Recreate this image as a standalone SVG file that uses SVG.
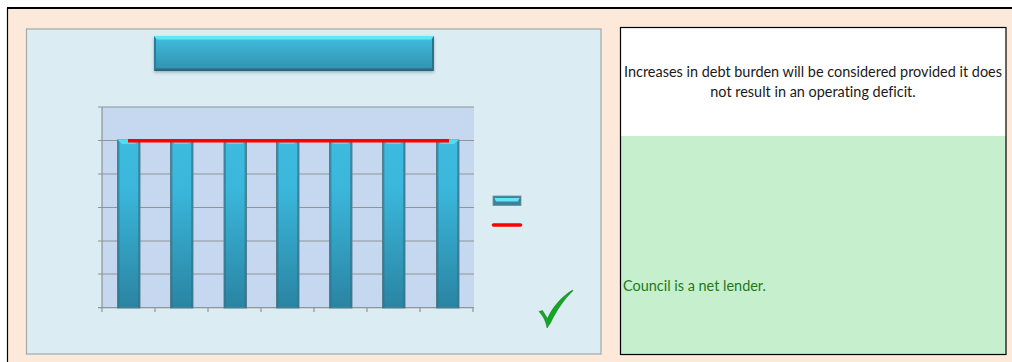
<svg xmlns="http://www.w3.org/2000/svg" width="1012" height="362" viewBox="0 0 1012 362">
<style>
text{font-family:"Lato","Noto Sans","Liberation Sans",sans-serif;font-size:14.45px;font-variant-ligatures:none}
.grid{stroke:#8f9499;stroke-width:1.2;fill:none}
.bar{fill:url(#barFill);stroke:#5f8494;stroke-width:1}
.edge{fill:none;stroke:#2f6f87;stroke-opacity:.6;stroke-width:1.8}
.hi{fill:#55dcf2}
.red{stroke:#fe0000;stroke-width:3.6;fill:none}
</style>
<defs>
<linearGradient id="barFill" x1="0" y1="0" x2="0" y2="1"><stop offset="0" stop-color="#3dbce0"/><stop offset=".3" stop-color="#3ab6da"/><stop offset="1" stop-color="#2a84a2"/></linearGradient>
<linearGradient id="titleFill" x1="0" y1="0" x2="0" y2="1"><stop offset="0" stop-color="#3fbfe0"/><stop offset="1" stop-color="#338fae"/></linearGradient>
<filter id="soft" x="-5%" y="-20%" width="110%" height="150%"><feDropShadow dx="0" dy="1.5" stdDeviation="1.5" flood-color="#35586a" flood-opacity=".4"/></filter>
</defs>
<rect width="1012" height="362" fill="#fff"/>
<rect x="7" y="8" width="1005" height="354" fill="#fce9da"/>
<path d="M7.500 362V8" fill="none" stroke="#000" stroke-width="1.2"/>
<path d="M7 7.900H1012" fill="none" stroke="#000" stroke-width="2"/>
<g id="chart-panel">
<rect x="26.500" y="29" width="574.500" height="325" fill="#dbedf3" stroke="#a4a8aa" stroke-width="1.2"/>
</g>
<g id="title-bar">
<rect x="154" y="36" width="280" height="35" fill="url(#titleFill)" filter="url(#soft)"/>
<path d="M154 36H434L431 39.500H157Z" fill="#5fe6f8"/>
<path d="M154 71H434L432 68.500H156Z" fill="#2a667d"/>
<path d="M154 36L156 39V69L154 71Z" fill="#2f7a94"/>
<path d="M434 36L432 39V69L434 71Z" fill="#2b7188"/>
</g>
<g id="plot">
<rect x="102" y="107" width="372" height="201" fill="#c6d8ef"/>
<path class="grid" d="M98 107H474M98 140.500H474M98 174H474M98 207.500H474M98 241H474M98 274H474M98 307.700H474M102 107V312M155 308V312M208 308V312M261 308V312M314 308V312M367 308V312M420 308V312M473 308V312"/>
</g>
<g id="bars">
<g><rect class="bar" x="117.500" y="140" width="22.500" height="168"/><path class="edge" d="M118.500 141V308M139 141V308"/><path class="hi" d="M118 140H139.500L135 144H122Z"/></g>
<g><rect class="bar" x="170.500" y="140" width="22.500" height="168"/><path class="edge" d="M171.500 141V308M192 141V308"/><path class="hi" d="M171 141H192.500L188 144H175Z"/></g>
<g><rect class="bar" x="224" y="140" width="22.500" height="168"/><path class="edge" d="M225 141V308M245.500 141V308"/><path class="hi" d="M224.500 141H246L242 144H228Z"/></g>
<g><rect class="bar" x="276.500" y="140" width="22.500" height="168"/><path class="edge" d="M277.500 141V308M298 141V308"/><path class="hi" d="M277 141H298.500L294 144H281Z"/></g>
<g><rect class="bar" x="329.500" y="140" width="22.500" height="168"/><path class="edge" d="M330.500 141V308M351 141V308"/><path class="hi" d="M330 141H351.500L347 144H334Z"/></g>
<g><rect class="bar" x="382.500" y="140" width="22.500" height="168"/><path class="edge" d="M383.500 141V308M404 141V308"/><path class="hi" d="M383 141H404.500L400 144H387Z"/></g>
<g><rect class="bar" x="436.500" y="140" width="22.500" height="168"/><path class="edge" d="M437.500 141V308M458 141V308"/><path class="hi" d="M437 140H458.500L454 144H441Z"/></g>
</g>
<g id="target-line"><path class="red" d="M128 140.800H449"/></g>
<g id="legend">
<rect x="493" y="196" width="28" height="9.500" fill="#3f8199" stroke="#6a93a3" stroke-width=".8"/>
<path d="M494.500 198H519.500L518 201.500H496Z" fill="#62e5f8"/>
<path class="red" stroke-linecap="round" d="M493.500 225H520.500"/>
</g>
<g id="check">
<path d="M539 311.500L542.500 310.500L547.500 318.500C552 308 561 297 572.500 290L572.800 291C565 298 556 311 550.500 323L547 328C546 321 543 316 539 311.500Z" fill="#13a724" stroke="#0d5c1a" stroke-width=".4"/>
</g>
<g id="criteria-box">
<rect x="620.500" y="27.500" width="385.500" height="327" fill="#fff"/>
<rect x="621" y="136" width="385" height="218" fill="#c6efce"/>
<rect x="620.500" y="27.500" width="385.500" height="327" fill="none" stroke="#000" stroke-width="1.2"/>
<text x="813" y="77" text-anchor="middle" fill="#1a1a1a">Increases in debt burden will be considered provided it does</text>
<text x="813" y="97" text-anchor="middle" fill="#1a1a1a">not result in an operating deficit.</text>
<text x="623" y="291" fill="#1d7a20">Council is a net lender.</text>
</g>
</svg>
